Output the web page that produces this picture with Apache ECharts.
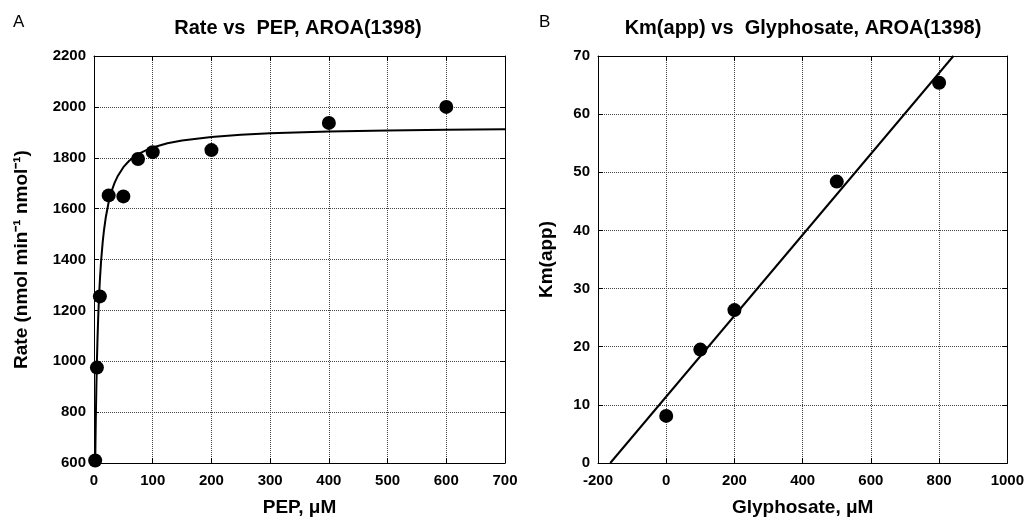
<!DOCTYPE html>
<html>
<head>
<meta charset="utf-8">
<script src="https://cdn.jsdelivr.net/npm/echarts@6/dist/echarts.min.js"></script>
<style>
html,body{margin:0;padding:0;background:#fff;}
#main{width:1027px;height:522px;}
</style>
</head>
<body>
<div id="main"></div>
<script>
// Panel A: Rate vs PEP
const pepPoints = [[2, 610], [5, 975], [10, 1255], [25, 1652], [50, 1648], [75, 1795], [100, 1822], [200, 1830], [400, 1937], [600, 2000]];
const pepFitCurve = [[2, 583], [2.1, 603], [2.5, 678], [3, 760], [4, 895], [5, 1003], [6, 1090], [7, 1162], [8, 1222], [9, 1274], [10, 1318], [12, 1392], [15, 1473], [17, 1515], [20, 1565], [25, 1626], [30, 1669], [35, 1701], [40, 1726], [50, 1763], [60, 1788], [75, 1814], [90, 1831], [100, 1840], [125, 1857], [150, 1868], [200, 1882], [250, 1890], [300, 1896], [400, 1903], [500, 1907], [600, 1910], [700, 1912]];
// Panel B: Km(app) vs Glyphosate
const glyPoints = [[0, 8.1], [100, 19.5], [200, 26.3], [500, 48.4], [800, 65.4]];
const glyFitLine = [[-164, 0], [842, 70]];

const titleA = 'Rate vs  PEP, AROA(1398)';
const titleB = 'Km(app) vs  Glyphosate, AROA(1398)';
const xNameA = 'PEP, \u03bcM';
const yNameA = 'Rate (nmol min\u207b\u00b9 nmol\u207b\u00b9)';
const xNameB = 'Glyphosate, \u03bcM';
const yNameB = 'Km(app)';

const FONT = '"Liberation Sans", Arial, Helvetica, sans-serif';
const chart = echarts.init(document.getElementById('main'), null, {renderer: 'canvas'});

const labelStyle = {color: '#000', fontFamily: FONT, fontWeight: 'bold', fontSize: 15, formatter: function (v) { return String(v); }};
const splitStyle = {show: true, lineStyle: {color: '#444', width: 1, type: [1, 1]}};
const lineAx = {show: true, onZero: false, lineStyle: {color: '#000', width: 1}};
const tickIn = {show: true, inside: true, length: 5, lineStyle: {color: '#000', width: 1}};
const nameStyle = {color: '#000', fontFamily: FONT, fontWeight: 'bold', fontSize: 19};

function mainX(gi, min, max, interval, name) {
  return {type: 'value', gridIndex: gi, min: min, max: max, interval: interval, position: 'bottom',
    axisLine: lineAx, axisTick: tickIn, splitLine: splitStyle,
    axisLabel: Object.assign({margin: 10}, labelStyle),
    name: name, nameLocation: 'middle', nameGap: 35, nameTextStyle: nameStyle};
}
function mirrorX(gi, min, max, interval) {
  return {type: 'value', gridIndex: gi, min: min, max: max, interval: interval, position: 'top',
    axisLine: lineAx, axisTick: tickIn, splitLine: {show: false}, axisLabel: {show: false}};
}
function mainY(gi, min, max, interval, name, gap) {
  return {type: 'value', gridIndex: gi, min: min, max: max, interval: interval, position: 'left',
    axisLine: lineAx, axisTick: tickIn, splitLine: splitStyle,
    axisLabel: Object.assign({margin: 8}, labelStyle),
    name: name, nameLocation: 'middle', nameGap: gap, nameTextStyle: nameStyle};
}
function mirrorY(gi, min, max, interval) {
  return {type: 'value', gridIndex: gi, min: min, max: max, interval: interval, position: 'right',
    axisLine: lineAx, axisTick: tickIn, splitLine: {show: false}, axisLabel: {show: false}};
}

const option = {
  backgroundColor: '#fff',
  animation: false,
  grid: [
    {left: 94, right: 522, top: 56, bottom: 56, show: false},
    {left: 598, right: 19, top: 56, bottom: 56, show: false}
  ],
  xAxis: [
    mainX(0, 0, 700, 100, xNameA),
    mirrorX(0, 0, 700, 100),
    mainX(1, -200, 1000, 200, xNameB),
    mirrorX(1, -200, 1000, 200)
  ],
  yAxis: [
    mainY(0, 600, 2200, 200, yNameA, 63),
    mirrorY(0, 600, 2200, 200),
    mainY(1, 0, 70, 10, yNameB, 42),
    mirrorY(1, 0, 70, 10)
  ],
  series: [
    {type: 'line', xAxisIndex: 0, yAxisIndex: 0, data: pepFitCurve, showSymbol: false, smooth: false,
      lineStyle: {color: '#000', width: 2}, clip: true, z: 3},
    {type: 'scatter', xAxisIndex: 0, yAxisIndex: 0, data: pepPoints, symbol: 'circle', symbolSize: 14,
      itemStyle: {color: '#000', opacity: 1}, clip: false, z: 4},
    {type: 'line', xAxisIndex: 2, yAxisIndex: 2, data: glyFitLine, showSymbol: false,
      lineStyle: {color: '#000', width: 2}, clip: true, z: 3},
    {type: 'scatter', xAxisIndex: 2, yAxisIndex: 2, data: glyPoints, symbol: 'circle', symbolSize: 14,
      itemStyle: {color: '#000', opacity: 1}, clip: false, z: 4}
  ],
  graphic: [
    {type: 'text', x: 298, y: 28, style: {text: titleA, fill: '#000', font: 'bold 20px ' + FONT, textAlign: 'center', textVerticalAlign: 'middle'}},
    {type: 'text', x: 803, y: 28, style: {text: titleB, fill: '#000', font: 'bold 20px ' + FONT, textAlign: 'center', textVerticalAlign: 'middle'}},
    {type: 'text', x: 13, y: 22, style: {text: 'A', fill: '#000', font: '17px ' + FONT, textAlign: 'left', textVerticalAlign: 'middle'}},
    {type: 'text', x: 539, y: 22, style: {text: 'B', fill: '#000', font: '17px ' + FONT, textAlign: 'left', textVerticalAlign: 'middle'}}
  ]
};
chart.setOption(option);
</script>
</body>
</html>
